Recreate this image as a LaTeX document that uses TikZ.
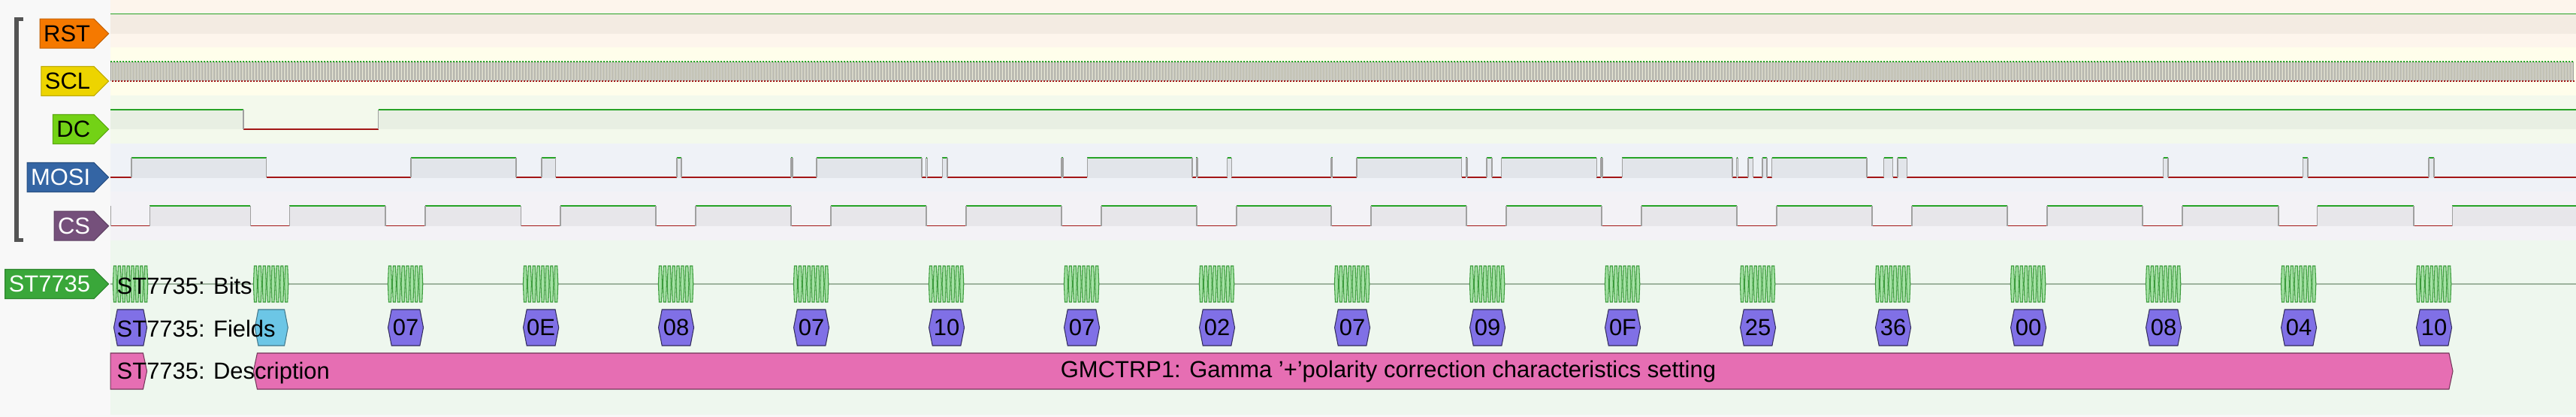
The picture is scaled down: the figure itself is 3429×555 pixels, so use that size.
\documentclass[tikz,border=0pt]{standalone}
\usepackage{fontspec}
\setmainfont{Liberation Sans}
\usetikzlibrary{shapes.symbols,positioning}

\definecolor{panel}{HTML}{F8F8F8}
\definecolor{rstbg}{HTML}{FDF5EC}
\definecolor{rstfill}{HTML}{F3EBE2}
\definecolor{sclbg}{HTML}{FFFEEB}
\definecolor{sclfill}{HTML}{E6E6DC}
\definecolor{scledge}{HTML}{9C9C94}
\definecolor{dcbg}{HTML}{F3F9EC}
\definecolor{dcfill}{HTML}{E8EFE3}
\definecolor{mosibg}{HTML}{EFF2F7}
\definecolor{mosifill}{HTML}{E2E5EA}
\definecolor{csbg}{HTML}{F3F2F6}
\definecolor{csfill}{HTML}{E7E6EA}
\definecolor{decbg}{HTML}{EEF7EE}
\definecolor{hiline}{HTML}{26A326}
\definecolor{loline}{HTML}{A31616}
\definecolor{edgegray}{HTML}{A0A0A0}
\definecolor{rstc}{HTML}{F57900}
\definecolor{sclc}{HTML}{EDD400}
\definecolor{dcc}{HTML}{73D216}
\definecolor{mosic}{HTML}{3465A4}
\definecolor{csc}{HTML}{75507B}
\definecolor{stc}{HTML}{3AA73A}
\definecolor{fieldc}{HTML}{8070E6}
\definecolor{cmdc}{HTML}{6CC6E6}
\definecolor{descc}{HTML}{E66EB3}
\definecolor{bitc}{HTML}{A4E2A4}
\definecolor{bitd}{HTML}{3A9A3A}
\definecolor{bitline}{HTML}{9DB39D}

\begin{document}
\begin{tikzpicture}[x=0.01cm, y=-0.01cm,
	every node/.style = {font=\fontsize{8.8}{10}\selectfont},
	chlabel/.style = {signal, signal to=east, signal pointer angle=90, minimum height=0.39cm, inner xsep=0.05cm, inner ysep=0pt, anchor=east, line width=0.3pt},
	hi/.style = {hiline, line width=0.45pt},
	lo/.style = {loline, line width=0.45pt},
	edge/.style = {edgegray, line width=0.45pt},
	field/.style = {signal, signal to=east and west, signal pointer angle=158, minimum height=0.48cm, minimum width=0.47cm, inner sep=0pt, anchor=west, fill=fieldc, draw=black!60!fieldc, line width=0.3pt},
	descbar/.style = {signal, signal pointer angle=156, minimum height=0.48cm, inner sep=0pt, anchor=west, fill=descc, draw=black!50!descc, line width=0.3pt},
	bit/.style = {fill=bitc, draw=bitd, line width=0.3pt},
	title/.style = {anchor=west, inner sep=0pt}]

	\useasboundingbox (0,0) rectangle (3429,555);

	% backgrounds
	\fill[panel] (0,0) rectangle (3429,555);
	\fill[rstbg] (147,0) rectangle (3429,63);
	\fill[sclbg] (147,63) rectangle (3429,127);
	\fill[dcbg] (147,127) rectangle (3429,191);
	\fill[mosibg] (147,191) rectangle (3429,255);
	\fill[csbg] (147,255) rectangle (3429,320);
	\fill[decbg] (147,320) rectangle (3429,552);

	% RST
	\fill[rstfill] (147,18.5) rectangle (3429,44.7);
	\draw[hi] (147,18.5) -- (3429,18.5);

	% SCL
	\fill[sclfill] \foreach \i in {0,...,819} {({147+4*\i},82) rectangle ++(2,26)};
	\draw[scledge, line width=0.22pt] \foreach \i in {0,...,819} {({147+4*\i},82) -- ++(0,26) ({149+4*\i},82) -- ++(0,26)};
	\draw[hi, line width=0.35pt] \foreach \i in {0,...,819} {({147+4*\i},82) -- ++(2,0)};
	\draw[lo, line width=0.35pt] \foreach \i in {0,...,819} {({149+4*\i},108) -- ++(2,0)};

	% DC
	\fill[dcfill] (147,146) rectangle (324,172) (503.6,146) rectangle (3430,172);
	\draw[hi] (147,146) -- (324,146) (503.6,146) -- (3430,146);
	\draw[lo] (324,172) -- (503.6,172);
	\draw[edge] (324,146) -- (324,172) (503.6,146) -- (503.6,172);

	% MOSI
	\draw[lo] (147,236) -- (3430,236);
	\foreach \a/\b in {174.9/354.7, 547.2/687, 721/739.7, 900.9/907.1, 1053/1054.7, 1087/1226.8, 1232.5/1234.3, 1254.4/1261.1, 1413/1414.7, 1447.3/1587, 1592.4/1594.2, 1633.5/1639.3, 1771.8/1773.6, 1805.8/1945.5, 1951.3/1953, 1979/1985.7, 1998.6/2125.4, 2131.2/2133, 2159.4/2305.8, 2311.6/2313.4, 2327.2/2333.5, 2346/2352.2, 2358.5/2485.2, 2507.6/2519.6, 2525.9/2538.4, 2879.5/2886, 3065.4/3072, 3233.2/3239.8}
	{
		\fill[mosifill] (\a,210) rectangle (\b,236.6);
		\draw[hi] (\a,210) -- (\b,210);
		\draw[edge] (\a,210) -- (\a,236) (\b,210) -- (\b,236);
	}

	% CS
	\draw[lo] (147,300.7) -- (3430,300.7);
	\draw[edge] (147.5,274) -- (147.5,300.7);
	\foreach \a/\b in {199.4/333.3, 385.4/513.2, 566/693.3, 746/873.2, 926/1053, 1106/1233, 1286/1413, 1466/1593, 1646/1772, 1825/1952, 2005/2132, 2185/2312, 2365/2492, 2545/2672, 2725/2852, 2905/3033, 3084.5/3213, 3264.4/3430}
	{
		\fill[csfill] (\a,274) rectangle (\b,301.3);
		\draw[hi] (\a,274) -- (\b,274);
		\draw[edge] (\a,274) -- (\a,300.7) (\b,274) -- (\b,300.7);
	}

	% channel labels
	\draw[black!67, line width=0.05cm] (31,26) -- (22,26) -- (22,320) -- (31,320);
	\node[chlabel, fill=rstc, draw=black!20!rstc] (rst) at (145.4,44.7) {RST};
	\node[chlabel, fill=sclc, draw=black!20!sclc] (scl) at (145.4,108) {SCL};
	\node[chlabel, fill=dcc, draw=black!20!dcc] (dc) at (145.4,172) {DC};
	\node[chlabel, fill=mosic, draw=black!20!mosic, text=white] (mosi) at (145.4,236) {MOSI};
	\node[chlabel, fill=csc, draw=black!20!csc, text=white] (cs) at (145.4,300.7) {CS};
	\node[chlabel, fill=stc, draw=black!20!stc, text=white] (dec) at (145.4,378) {ST7735};

	% decoder rows
	\draw[bitline, line width=0.45pt] (147,378) -- (3430,378);
	\foreach \s in {150,337,516,696,876,1056,1236,1416,1596,1776,1956,2136,2316,2496,2676,2856,3036,3216}
		\foreach \b in {0,...,7}
			\draw[bit] ({\s+0.4+\b*5.9},378) -- ++(1,-24) -- ++(3.1,0) -- ++(1,24) -- ++(-1,24) -- ++(-3.1,0) -- cycle;

	\node[field, minimum width=0.44cm] (f0) at (151,436) {};
	\node[field, minimum width=0.44cm, fill=cmdc, draw=black!40!cmdc] (f1) at (338.7,436) {};
	\foreach \t [count=\k from 2] in {07,0E,08,07,10,07,02,07,09,0F,25,36,00,08,04,10}
		\node[field] (f\k) at ({516+180*(\k-2)},436) {\t};

	\node[descbar, signal to=east, minimum width=0.484cm] (d0) at (146.6,494) {};
	\node[descbar, signal to=east and west, minimum width=29.26cm] (d1) at (336.8,494) {};
	\node (desc) at (1848,495) {GMCTRP1: Gamma '+'polarity correction characteristics setting};

	\node[title] (bitsttl) at (155,380) {ST7735: Bits};
	\node[title] (fieldsttl) at (155,437) {ST7735: Fields};
	\node[title] (descttl) at (155,496) {ST7735: Description};

\end{tikzpicture}
\end{document}
